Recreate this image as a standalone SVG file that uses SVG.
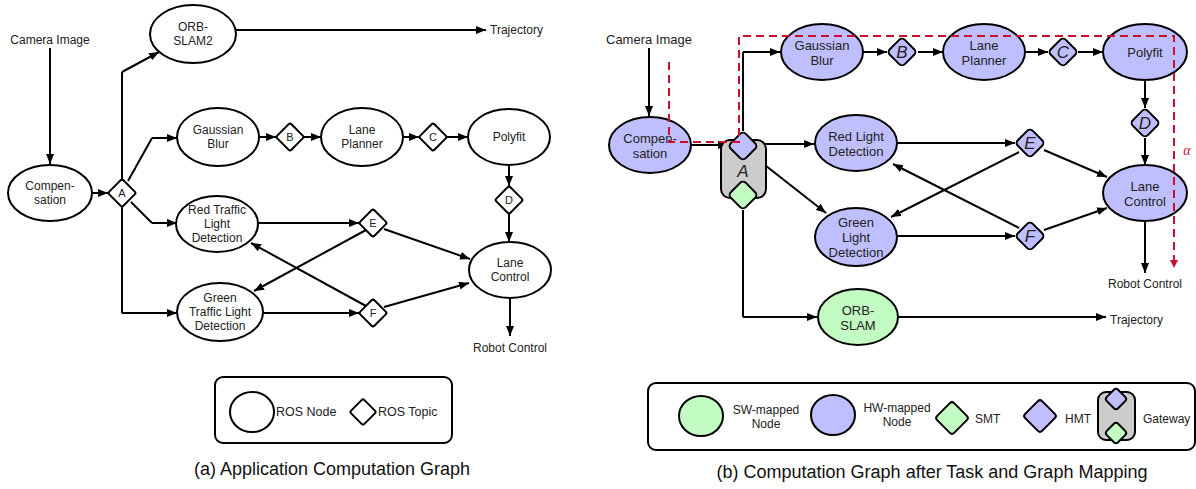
<svg xmlns="http://www.w3.org/2000/svg" width="1196" height="489" viewBox="0 0 1196 489">
<style>
.n{fill:#fff;stroke:#000;stroke-width:2}
.hw{fill:#bfbfff;stroke:#000;stroke-width:2}
.sw{fill:#c2fcc2;stroke:#000;stroke-width:2}
.gw{fill:#cccccc;stroke:#000;stroke-width:2}
.e{fill:none;stroke:#000;stroke-width:2;marker-end:url(#ah)}
.l{fill:none;stroke:#000;stroke-width:2}
.t{font-family:"Liberation Sans",Arial,sans-serif;font-size:12px;text-anchor:middle;dominant-baseline:central;fill:#222}
.tb{font-size:13px}
.tl{text-anchor:start}
.ti{font-family:"Liberation Sans",Arial,sans-serif;font-style:italic;font-size:17px;text-anchor:middle;dominant-baseline:central;fill:#222}
.ta{font-size:11px}
.cap{font-family:"Liberation Sans",Arial,sans-serif;font-size:18px;text-anchor:middle;dominant-baseline:central;fill:#111}
.box{fill:#fff;stroke:#000;stroke-width:2}
.dash{fill:none;stroke:#c8102e;stroke-width:2;stroke-dasharray:8,5;marker-end:url(#rh)}
</style>
<defs>
<marker id="ah" markerWidth="10" markerHeight="8" refX="10" refY="4" orient="auto" markerUnits="userSpaceOnUse"><path d="M0,0 L10,4 L0,8 z" fill="#000"/></marker>
<marker id="rh" markerWidth="8" markerHeight="8" refX="8" refY="4" orient="auto" markerUnits="userSpaceOnUse"><path d="M0,0 L8,4 L0,8 z" fill="#c8102e"/></marker>
</defs>

<!-- ============ Panel (a) ============ -->
<g id="a-connectors">
<path class="e" d="M50,48 V164"/>
<path class="e" d="M92,193 H108"/>
<path class="l" d="M122,179 V72"/>
<path class="e" d="M122,72 L159,52"/>
<path class="l" d="M128,181 L152,138"/>
<path class="e" d="M152,138 H177"/>
<path class="l" d="M131,202 L152,223"/>
<path class="e" d="M152,223 H177"/>
<path class="l" d="M122,207 V313"/>
<path class="e" d="M122,313 H177"/>
<path class="e" d="M236,30 H486"/>
<path class="e" d="M259,137 H276"/>
<path class="e" d="M304,137 H321"/>
<path class="e" d="M403,137 H419"/>
<path class="e" d="M447,137 H468"/>
<path class="e" d="M509,165 V186"/>
<path class="e" d="M509,214 V242"/>
<path class="e" d="M510,298 V336"/>
<path class="e" d="M257,223 H359"/>
<path class="e" d="M263,313 H359"/>
<path class="e" d="M366,230 L254,291"/>
<path class="e" d="M366,306 L251,243"/>
<path class="e" d="M384,229 L470,259"/>
<path class="e" d="M384,307 L469,283"/>
</g>
<g id="a-camera"><text class="t" x="50" y="40">Camera Image</text></g>
<g id="a-trajectory"><text class="t tl" x="490" y="30">Trajectory</text></g>
<g id="a-robot"><text class="t" x="510" y="348">Robot Control</text></g>
<g id="a-comp"><ellipse class="n" cx="50" cy="193" rx="42" ry="28"/><text class="t" x="50" y="186">Compen-</text><text class="t" x="50" y="200">sation</text></g>
<g id="a-A"><rect class="n" x="-10" y="-10" width="20" height="20" rx="2" transform="translate(122,193) rotate(45)"/><text class="t ta" x="122" y="193">A</text></g>
<g id="a-orb"><ellipse class="n" cx="193" cy="34" rx="43" ry="29"/><text class="t" x="193" y="27">ORB-</text><text class="t" x="193" y="41">SLAM2</text></g>
<g id="a-gauss"><ellipse class="n" cx="218" cy="137" rx="41" ry="29"/><text class="t" x="218" y="130">Gaussian</text><text class="t" x="218" y="144">Blur</text></g>
<g id="a-B"><rect class="n" x="-10" y="-10" width="20" height="20" rx="2" transform="translate(290,137) rotate(45)"/><text class="t ta" x="290" y="137">B</text></g>
<g id="a-lp"><ellipse class="n" cx="362" cy="137" rx="41" ry="29"/><text class="t" x="362" y="130">Lane</text><text class="t" x="362" y="144">Planner</text></g>
<g id="a-C"><rect class="n" x="-10" y="-10" width="20" height="20" rx="2" transform="translate(433,137) rotate(45)"/><text class="t ta" x="433" y="137">C</text></g>
<g id="a-poly"><ellipse class="n" cx="509" cy="137" rx="41" ry="28"/><text class="t" x="509" y="137">Polyfit</text></g>
<g id="a-D"><rect class="n" x="-10" y="-10" width="20" height="20" rx="2" transform="translate(509,200) rotate(45)"/><text class="t ta" x="509" y="200">D</text></g>
<g id="a-lc"><ellipse class="n" cx="510" cy="270" rx="41" ry="28"/><text class="t" x="510" y="263">Lane</text><text class="t" x="510" y="277">Control</text></g>
<g id="a-red"><ellipse class="n" cx="217" cy="224" rx="41" ry="28"/><text class="t" x="217" y="210">Red Traffic</text><text class="t" x="217" y="224">Light</text><text class="t" x="217" y="238">Detection</text></g>
<g id="a-green"><ellipse class="n" cx="220" cy="312" rx="43" ry="29"/><text class="t" x="220" y="298">Green</text><text class="t" x="220" y="312">Traffic Light</text><text class="t" x="220" y="326">Detection</text></g>
<g id="a-E"><rect class="n" x="-10" y="-10" width="20" height="20" rx="2" transform="translate(373,223) rotate(45)"/><text class="t ta" x="373" y="223">E</text></g>
<g id="a-F"><rect class="n" x="-10" y="-10" width="20" height="20" rx="2" transform="translate(373,313) rotate(45)"/><text class="t ta" x="373" y="313">F</text></g>
<g id="a-legend">
<rect class="box" x="215" y="377" width="237" height="66" rx="8"/>
<ellipse class="n" cx="252" cy="412" rx="22" ry="20"/>
<text class="t tl" x="276" y="412" style="font-size:12.5px">ROS Node</text>
<rect class="n" x="-9.4" y="-9.4" width="18.8" height="18.8" rx="2" transform="translate(363,412) rotate(45)"/>
<text class="t tl" x="378" y="412" style="font-size:12.5px">ROS Topic</text>
</g>
<g id="a-caption"><text class="cap" x="332" y="469">(a) Application Computation Graph</text></g>

<!-- ============ Panel (b) ============ -->
<g id="b-connectors">
<path class="e" d="M649,48 V116"/>
<path class="e" d="M691,145 H728"/>
<path class="l" d="M743,131 V52"/>
<path class="e" d="M743,52 H780"/>
<path class="e" d="M758,144 H814"/>
<path class="e" d="M752,155 L826,213"/>
<path class="l" d="M743,210 V317"/>
<path class="e" d="M743,317 H817"/>
<path class="e" d="M863,52 H887"/>
<path class="e" d="M918,52 H943"/>
<path class="e" d="M1025,52 H1048"/>
<path class="e" d="M1078,52 H1103"/>
<path class="e" d="M1145,80 V108"/>
<path class="e" d="M1145,138 V165"/>
<path class="e" d="M898,143 H1015"/>
<path class="e" d="M898,236 H1015"/>
<path class="e" d="M1019,152 L891,217"/>
<path class="e" d="M1019,228 L893,164"/>
<path class="e" d="M1044,150 L1107,177"/>
<path class="e" d="M1044,230 L1107,208"/>
<path class="e" d="M1145,221 V273"/>
<path class="e" d="M898,317 H1106"/>
</g>
<g id="b-camera"><text class="t tb" x="649" y="39">Camera Image</text></g>
<g id="b-robot"><text class="t" x="1145" y="284">Robot Control</text></g>
<g id="b-trajectory"><text class="t tl" x="1110" y="320">Trajectory</text></g>
<g id="b-comp"><ellipse class="hw" cx="650" cy="145" rx="41" ry="28"/><text class="t tb" x="650" y="138">Compen-</text><text class="t tb" x="650" y="153">sation</text></g>
<g id="b-gateway-A">
<rect class="gw" x="721" y="140" width="45" height="58" rx="9"/>
<rect class="hw" x="-10.6" y="-10.6" width="21.2" height="21.2" rx="4" transform="translate(743,146) rotate(45)"/>
<rect class="sw" x="-10.6" y="-10.6" width="21.2" height="21.2" rx="4" transform="translate(743,195) rotate(45)"/>
<text class="ti" x="743" y="171">A</text>
</g>
<g id="b-gauss"><ellipse class="hw" cx="822" cy="52" rx="41" ry="28"/><text class="t tb" x="822" y="45">Gaussian</text><text class="t tb" x="822" y="60">Blur</text></g>
<g id="b-B"><rect class="hw" x="-10.6" y="-10.6" width="21.2" height="21.2" rx="4" transform="translate(902,52) rotate(45)"/><text class="ti" x="902" y="52">B</text></g>
<g id="b-lp"><ellipse class="hw" cx="984" cy="52" rx="41" ry="28"/><text class="t tb" x="984" y="45">Lane</text><text class="t tb" x="984" y="60">Planner</text></g>
<g id="b-C"><rect class="hw" x="-10.6" y="-10.6" width="21.2" height="21.2" rx="4" transform="translate(1063,52) rotate(45)"/><text class="ti" x="1063" y="52">C</text></g>
<g id="b-poly"><ellipse class="hw" cx="1145" cy="52" rx="42" ry="28"/><text class="t tb" x="1145" y="52">Polyfit</text></g>
<g id="b-D"><rect class="hw" x="-10.6" y="-10.6" width="21.2" height="21.2" rx="4" transform="translate(1145,123) rotate(45)"/><text class="ti" x="1145" y="123">D</text></g>
<g id="b-lc"><ellipse class="hw" cx="1145" cy="193" rx="42" ry="28"/><text class="t tb" x="1145" y="186">Lane</text><text class="t tb" x="1145" y="201">Control</text></g>
<g id="b-red"><ellipse class="hw" cx="856" cy="143" rx="41" ry="28"/><text class="t tb" x="856" y="136">Red Light</text><text class="t tb" x="856" y="151">Detection</text></g>
<g id="b-green"><ellipse class="hw" cx="856" cy="237" rx="41" ry="29"/><text class="t tb" x="856" y="222">Green</text><text class="t tb" x="856" y="237">Light</text><text class="t tb" x="856" y="252">Detection</text></g>
<g id="b-E"><rect class="hw" x="-10.6" y="-10.6" width="21.2" height="21.2" rx="4" transform="translate(1030,143) rotate(45)"/><text class="ti" x="1030" y="143">E</text></g>
<g id="b-F"><rect class="hw" x="-10.6" y="-10.6" width="21.2" height="21.2" rx="4" transform="translate(1030,236) rotate(45)"/><text class="ti" x="1030" y="236">F</text></g>
<g id="b-orb"><ellipse class="sw" cx="858" cy="317" rx="40" ry="28"/><text class="t tb" x="858" y="310">ORB-</text><text class="t tb" x="858" y="325">SLAM</text></g>
<g id="b-alpha">
<path class="dash" d="M669,62 V142 H739 V36 H1174 V268"/>
<text x="1187" y="150" font-family="'Liberation Serif','DejaVu Serif',serif" font-style="italic" font-size="14" fill="#c8102e" text-anchor="middle" dominant-baseline="central">α</text>
</g>
<g id="b-legend">
<rect class="box" x="648" y="383" width="547" height="67" rx="8"/>
<ellipse class="sw" cx="701" cy="416" rx="22" ry="20"/>
<text class="t" x="766" y="410">SW-mapped</text><text class="t" x="766" y="424">Node</text>
<ellipse class="hw" cx="833" cy="415" rx="22" ry="20"/>
<text class="t" x="897" y="408">HW-mapped</text><text class="t" x="897" y="422">Node</text>
<rect class="sw" x="-12" y="-12" width="24" height="24" rx="3" transform="translate(952,418) rotate(45)"/>
<text class="t tl" x="975" y="419">SMT</text>
<rect class="hw" x="-12" y="-12" width="24" height="24" rx="3" transform="translate(1040,416) rotate(45)"/>
<text class="t tl" x="1065" y="419">HMT</text>
<rect class="gw" x="1098" y="392" width="37" height="48" rx="8"/>
<rect class="hw" x="-8" y="-8" width="16" height="16" rx="3" transform="translate(1116,399) rotate(45)"/>
<rect class="sw" x="-8" y="-8" width="16" height="16" rx="3" transform="translate(1116,433) rotate(45)"/>
<text class="t tl" x="1143" y="419">Gateway</text>
</g>
<g id="b-caption"><text class="cap" x="932" y="472">(b) Computation Graph after Task and Graph Mapping</text></g>
</svg>
